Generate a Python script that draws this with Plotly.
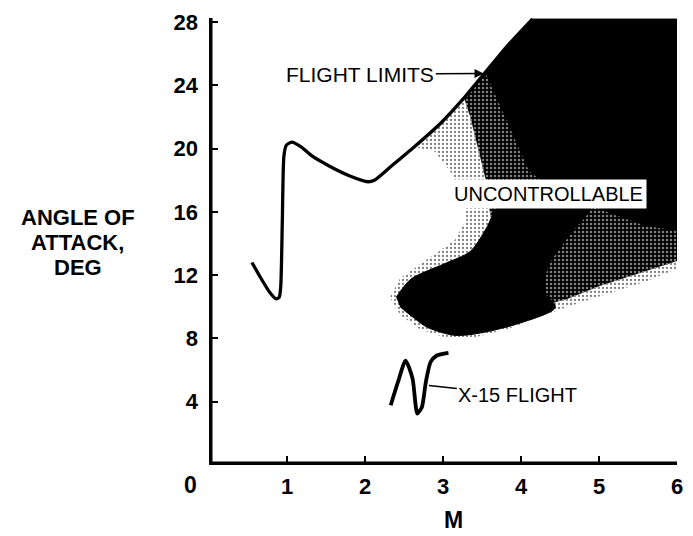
import plotly.graph_objects as go

# Flight-limit boundary: Mach number vs angle of attack (deg)
limit_mach = [0.55, 0.66, 0.78, 0.86, 0.90, 0.92, 0.94, 0.96, 0.99, 1.06, 1.18,
              1.33, 1.54, 1.79, 2.04, 2.12, 2.34, 2.63, 2.97, 3.27, 3.54, 3.81, 4.15]
limit_alpha = [12.8, 11.85, 10.9, 10.5, 10.6, 11.3, 15.4, 19.5, 20.2, 20.4, 20.1,
               19.5, 18.9, 18.3, 17.9, 18.0, 18.9, 20.1, 21.6, 23.2, 24.8, 26.4, 28.2]

# X-15 flight trace
x15_mach = [2.33, 2.42, 2.52, 2.61, 2.67, 2.73, 2.78, 2.84, 2.92, 3.07]
x15_alpha = [3.78, 5.2, 6.6, 5.46, 3.25, 3.67, 5.24, 6.5, 6.92, 7.09]

# Uncontrollable region: outer (sparse), middle (dense) and solid zones
top_alpha = 28.2
outer_mach = [6.0, 6.0, 5.6, 5.1, 4.6, 4.2, 3.9, 3.4, 3.0, 2.7, 2.45, 2.32, 2.45,
              2.8, 3.15, 3.3, 3.25, 3.1, 2.9]
outer_alpha = [top_alpha, 12.4, 11.6, 10.8, 10.0, 9.3, 8.7, 8.05, 8.1, 8.6, 9.5, 10.6,
               11.8, 13.0, 14.2, 15.5, 17.0, 18.5, 19.8]
outer_from_mach = 2.6

middle_mach = [6.0, 6.0, 5.5, 5.0, 4.6, 4.3, 3.9, 3.7, 3.6, 3.55, 3.45, 3.35]
middle_alpha = [top_alpha, 12.9, 12.1, 11.3, 10.5, 10.1, 12.0, 14.0, 16.0, 18.0, 20.0, 22.0]
middle_from_mach = 3.27

solid_top_mach = [6.0, 6.0, 5.6, 5.2, 4.8, 4.4, 4.1, 3.95, 3.8, 3.65]
solid_top_alpha = [top_alpha, 14.8, 15.1, 15.8, 16.6, 17.4, 18.6, 20.3, 22.0, 23.6]
solid_from_mach = 3.54

solid_low_mach = [2.40, 2.59, 3.01, 3.35, 3.56, 3.70, 3.95, 4.5, 4.9, 4.6, 4.35,
                  4.3, 4.44, 3.94, 3.43, 3.14, 2.80, 2.59, 2.45]
solid_low_alpha = [10.6, 11.75, 12.7, 13.5, 15.0, 16.3, 16.8, 16.8, 16.4, 14.4, 12.6,
                   11.0, 9.96, 8.9, 8.3, 8.2, 8.7, 9.44, 10.0]

x_ticks = [1, 2, 3, 4, 5, 6]
y_ticks = [4, 8, 12, 16, 20, 24, 28]

FONT = "Liberation Sans, Arial, sans-serif"


def along_limit(m_start):
    """Points of the flight-limit curve from m_start upward (shared edge)."""
    pts = [(m, a) for m, a in zip(limit_mach, limit_alpha) if m >= m_start]
    return [p[0] for p in pts], [p[1] for p in pts]


def region(m_start, xs, ys):
    em, ea = along_limit(m_start)
    return em + xs, ea + ys


fig = go.Figure()

# sparse black specks on white
ox, oy = region(outer_from_mach, outer_mach, outer_alpha)
fig.add_trace(go.Scatter(
    x=ox, y=oy, mode="lines", fill="toself", line=dict(width=0),
    fillcolor="rgba(0,0,0,0)",
    fillpattern=dict(shape=".", size=4, solidity=0.25, fgcolor="black", bgcolor="white"),
    hoverinfo="skip", showlegend=False))

# dense: black with white flecks
mx, my = region(middle_from_mach, middle_mach, middle_alpha)
fig.add_trace(go.Scatter(
    x=mx, y=my, mode="lines", fill="toself", line=dict(width=0),
    fillcolor="rgba(0,0,0,0)",
    fillpattern=dict(shape=".", size=4, solidity=0.3, fgcolor="white", bgcolor="black"),
    hoverinfo="skip", showlegend=False))

sx, sy = region(solid_from_mach, solid_top_mach, solid_top_alpha)
fig.add_trace(go.Scatter(
    x=sx, y=sy, mode="lines", fill="toself", line=dict(width=0, color="black"),
    fillcolor="black", hoverinfo="skip", showlegend=False))

fig.add_trace(go.Scatter(
    x=solid_low_mach, y=solid_low_alpha, mode="lines", fill="toself",
    line=dict(width=1, color="black", shape="spline", smoothing=0.8),
    fillcolor="black", hoverinfo="skip", showlegend=False))

# Flight-limit curve
fig.add_trace(go.Scatter(
    x=limit_mach, y=limit_alpha, mode="lines",
    line=dict(color="black", width=3.3, shape="spline", smoothing=0.6),
    hoverinfo="skip", showlegend=False))

# X-15 flight
fig.add_trace(go.Scatter(
    x=x15_mach, y=x15_alpha, mode="lines",
    line=dict(color="black", width=3.8, shape="spline", smoothing=0.6),
    hoverinfo="skip", showlegend=False))

label_font = dict(family=FONT, size=20, color="black")
bold_font = dict(family=FONT, size=23, color="black", weight="bold")
title_font = dict(family=FONT, size=22, color="black", weight="bold")
tick_font = dict(family=FONT, size=22, color="black", weight="bold")


def paper_text(x, y, text, font=bold_font):
    return dict(x=x, y=y, xref="paper", yref="paper", text=text, showarrow=False,
                xanchor="center", yanchor="middle", font=font)


annotations = [
    dict(x=3.52, y=24.75, xref="x", yref="y", ax=1.94, ay=24.7, axref="x", ayref="y",
         text="FLIGHT LIMITS", showarrow=True, arrowhead=2, arrowsize=1.2,
         arrowwidth=1.5, arrowcolor="black", standoff=0,
         font=dict(family=FONT, size=21, color="black")),
    dict(x=4.35, y=17.15, xref="x", yref="y", text="UNCONTROLLABLE", showarrow=False,
         xanchor="center", yanchor="middle", bgcolor="white", borderpad=3,
         font=label_font),
    dict(x=2.82, y=5.03, xref="x", yref="y", ax=3.96, ay=4.4, axref="x", ayref="y",
         text="X-15 FLIGHT", showarrow=True, arrowhead=0, arrowwidth=1.5,
         arrowcolor="black", standoff=0, font=label_font),
    # y-axis title, one annotation per line
    paper_text(-0.2806, 0.5539, "ANGLE OF", title_font),
    paper_text(-0.2806, 0.4977, "ATTACK,", title_font),
    paper_text(-0.2806, 0.4416, "DEG", title_font),
    paper_text(0.523, -0.1236, "M"),
    paper_text(-0.040, -0.045, "0"),
]

fig.update_layout(
    width=693, height=536,
    margin=dict(l=209, r=10, t=16, b=71),
    paper_bgcolor="white", plot_bgcolor="white",
    font=dict(family=FONT, color="black"),
    annotations=annotations,
    shapes=[dict(type="path", path="M 0,28.25 L 0,0 L 6,0", xref="x", yref="y",
                 line=dict(color="black", width=7), layer="above")],
    xaxis=dict(range=[0, 6], tickvals=x_ticks, ticktext=[str(v) for v in x_ticks],
               ticks="inside", ticklen=9, tickwidth=2, tickcolor="black",
               showline=False, showgrid=False, zeroline=False,
               tickfont=tick_font, ticklabelstandoff=6),
    yaxis=dict(range=[0, 28.25], tickvals=y_ticks, ticktext=[str(v) for v in y_ticks],
               ticks="inside", ticklen=9, tickwidth=2, tickcolor="black",
               showline=False, showgrid=False, zeroline=False,
               tickfont=tick_font, ticklabelstandoff=10),
)

fig.write_html("out.html")
